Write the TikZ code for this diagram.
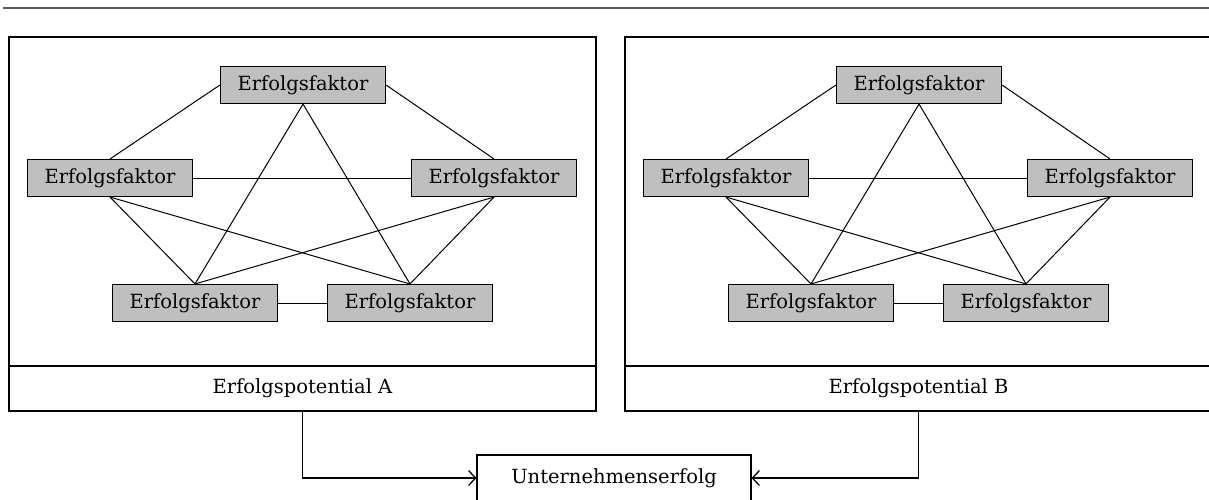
\documentclass[tikz,border=0pt]{standalone}
\usepackage{fontspec}
\setmainfont{DejaVu Serif}
\usetikzlibrary{arrows.meta}
\begin{document}
\begin{tikzpicture}[x=1pt,y=-1pt,
  line width=1.1pt,
  txt/.style={font=\fontsize{19.5}{23}\selectfont},
  factor/.style={txt, draw, fill=black!25, minimum width=165pt, minimum height=37pt,
    inner sep=0pt},
  frame/.style={draw, minimum width=587pt, minimum height=374pt, inner sep=0pt},
  link/.style={line width=1pt},
  flow/.style={line width=1.1pt, -{Straight Barb[length=7pt,width=15pt,line width=1.3pt]}}]
\useasboundingbox (0,0) rectangle (1209,499);
% rule along the top
\draw[gray!70!black, line width=1.2pt] (3,8) -- (1209,8);
% goal box
\node[txt, draw, minimum width=274pt, minimum height=46pt, inner sep=0pt]
  (ue) at (614,478) {Unternehmenserfolg};
\foreach \p/\dx in {A/0, B/616}{
  \node[frame] (frame\p) at (302.5+\dx,224) {};
  \draw (9+\dx,366) -- (596+\dx,366);
  \node[txt] (pot\p) at (302.5+\dx,388) {Erfolgspotential \p};
  \node[factor] (t\p) at (303+\dx,85)  {Erfolgsfaktor};
  \node[factor] (l\p) at (110+\dx,178) {Erfolgsfaktor};
  \node[factor] (r\p) at (494+\dx,178) {Erfolgsfaktor};
  \node[factor] (bl\p) at (195+\dx,303) {Erfolgsfaktor};
  \node[factor] (br\p) at (410+\dx,303) {Erfolgsfaktor};
  \draw[link] (t\p.west) -- (l\p.north);
  \draw[link] (t\p.east) -- (r\p.north);
  \draw[link] (t\p.south) -- (bl\p.north);
  \draw[link] (t\p.south) -- (br\p.north);
  \draw[link] (l\p) -- (r\p);
  \draw[link] (l\p.south) -- (bl\p.north);
  \draw[link] (l\p.south) -- (br\p.north);
  \draw[link] (r\p.south) -- (bl\p.north);
  \draw[link] (r\p.south) -- (br\p.north);
  \draw[link] (bl\p) -- (br\p);
}
\draw[flow] (frameA.south -| potA) |- (ue);
\draw[flow] (frameB.south -| potB) |- (ue);
\end{tikzpicture}
\end{document}
